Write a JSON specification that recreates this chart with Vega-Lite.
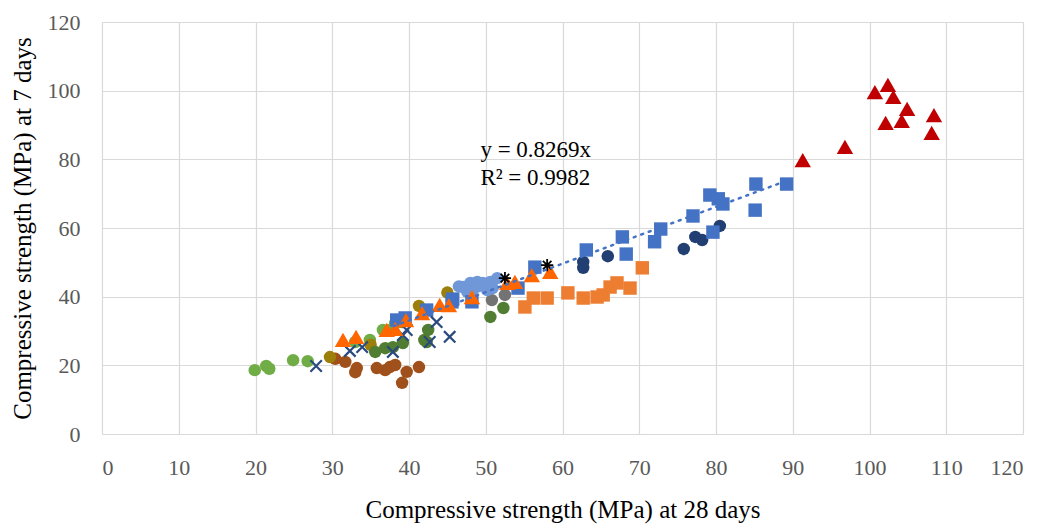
{
  "$schema": "https://vega.github.io/schema/vega-lite/v6.json",
  "autosize": "none",
  "width": 921,
  "height": 412,
  "padding": {"left": 102, "top": 22, "right": 25, "bottom": 95},
  "background": "white",
  "config": {
    "view": {"stroke": null},
    "axis": {
      "grid": true, "gridColor": "#d9d9d9", "gridWidth": 1.2, "domain": false, "ticks": false,
      "labelFont": "Liberation Serif", "labelFontSize": 22, "labelColor": "#595959",
      "titleFont": "Liberation Serif", "titleFontSize": 25, "titleColor": "#000000", "titleFontWeight": "normal"
    }
  },
  "datasets": {
    "pts": [
      {"s":"brown","x":30.4,"y":21.9},{"s":"brown","x":31.7,"y":21.0},{"s":"brown","x":33.2,"y":19.2},{"s":"brown","x":33.0,"y":18.0},{"s":"brown","x":35.8,"y":19.2},{"s":"brown","x":36.9,"y":18.6},{"s":"brown","x":37.5,"y":19.5},{"s":"brown","x":38.2,"y":20.1},{"s":"brown","x":39.7,"y":18.1},{"s":"brown","x":39.1,"y":14.9},{"s":"brown","x":41.3,"y":19.5},
      {"s":"lightgreen","x":19.9,"y":18.6},{"s":"lightgreen","x":21.4,"y":19.8},{"s":"lightgreen","x":21.8,"y":19.0},{"s":"lightgreen","x":24.9,"y":21.5},{"s":"lightgreen","x":26.8,"y":21.2},{"s":"lightgreen","x":33.0,"y":26.8},{"s":"lightgreen","x":34.9,"y":27.4},{"s":"lightgreen","x":36.6,"y":30.3},{"s":"lightgreen","x":38.2,"y":32.3},{"s":"lightgreen","x":37.5,"y":30.3},
      {"s":"olive","x":29.7,"y":22.4},{"s":"olive","x":35.0,"y":26.0},{"s":"olive","x":39.1,"y":32.6},{"s":"olive","x":41.3,"y":37.3},{"s":"olive","x":45.0,"y":41.2},
      {"s":"darkgreen","x":35.6,"y":23.9},{"s":"darkgreen","x":36.9,"y":25.0},{"s":"darkgreen","x":37.9,"y":25.3},{"s":"darkgreen","x":39.2,"y":26.5},{"s":"darkgreen","x":42.3,"y":26.8},{"s":"darkgreen","x":42.5,"y":30.3},{"s":"darkgreen","x":42.0,"y":27.4},{"s":"darkgreen","x":50.6,"y":34.1},{"s":"darkgreen","x":52.3,"y":36.7},
      {"s":"grey","x":50.8,"y":39.0},{"s":"grey","x":52.5,"y":40.5},
      {"s":"navycircle","x":62.7,"y":50.1},{"s":"navycircle","x":62.7,"y":48.4},{"s":"navycircle","x":65.9,"y":51.8},{"s":"navycircle","x":75.8,"y":53.9},{"s":"navycircle","x":77.3,"y":57.4},{"s":"navycircle","x":78.2,"y":56.5},{"s":"navycircle","x":80.5,"y":60.6},
      {"s":"orangesq","x":55.1,"y":37.0},{"s":"orangesq","x":56.2,"y":39.6},{"s":"orangesq","x":58.0,"y":39.6},{"s":"orangesq","x":60.7,"y":41.1},{"s":"orangesq","x":62.7,"y":39.6},{"s":"orangesq","x":64.5,"y":39.9},{"s":"orangesq","x":65.3,"y":40.5},{"s":"orangesq","x":66.2,"y":42.8},{"s":"orangesq","x":67.1,"y":44.0},{"s":"orangesq","x":68.8,"y":42.5},{"s":"orangesq","x":70.4,"y":48.4},
      {"s":"bluesq","x":38.4,"y":33.2},{"s":"bluesq","x":39.5,"y":33.8},{"s":"bluesq","x":42.3,"y":36.1},{"s":"bluesq","x":45.6,"y":38.5},{"s":"bluesq","x":45.7,"y":39.3},{"s":"bluesq","x":48.2,"y":38.5},{"s":"bluesq","x":54.2,"y":42.5},{"s":"bluesq","x":56.4,"y":48.6},{"s":"bluesq","x":63.1,"y":53.6},{"s":"bluesq","x":67.8,"y":57.4},{"s":"bluesq","x":68.3,"y":52.4},{"s":"bluesq","x":72.0,"y":56.0},{"s":"bluesq","x":72.8,"y":59.7},{"s":"bluesq","x":77.0,"y":63.5},{"s":"bluesq","x":79.2,"y":69.6},{"s":"bluesq","x":80.3,"y":68.5},{"s":"bluesq","x":80.9,"y":67.0},{"s":"bluesq","x":79.6,"y":58.8},{"s":"bluesq","x":85.2,"y":72.8},{"s":"bluesq","x":85.1,"y":65.2},{"s":"bluesq","x":89.2,"y":72.8},
      {"s":"lightblue","x":47.0,"y":42.8},{"s":"lightblue","x":48.0,"y":44.0},{"s":"lightblue","x":48.9,"y":44.3},{"s":"lightblue","x":49.6,"y":44.0},{"s":"lightblue","x":50.6,"y":44.3},{"s":"lightblue","x":51.5,"y":45.4},{"s":"lightblue","x":48.3,"y":41.9},{"s":"lightblue","x":50.2,"y":41.9},{"s":"lightblue","x":47.6,"y":41.4},{"s":"lightblue","x":50.9,"y":42.5},{"s":"lightblue","x":46.5,"y":43.0},{"s":"lightblue","x":49.0,"y":43.0},
      {"s":"navyx","x":27.9,"y":19.8},{"s":"navyx","x":32.3,"y":24.2},{"s":"navyx","x":33.9,"y":25.3},{"s":"navyx","x":37.9,"y":23.9},{"s":"navyx","x":39.2,"y":28.8},{"s":"navyx","x":39.7,"y":30.3},{"s":"navyx","x":42.7,"y":26.8},{"s":"navyx","x":43.6,"y":32.6},{"s":"navyx","x":45.3,"y":28.3},
      {"s":"orangetri","x":31.4,"y":27.4},{"s":"orangetri","x":33.1,"y":28.3},{"s":"orangetri","x":37.1,"y":30.3},{"s":"orangetri","x":38.2,"y":30.6},{"s":"orangetri","x":39.6,"y":33.2},{"s":"orangetri","x":41.7,"y":35.2},{"s":"orangetri","x":44.0,"y":37.6},{"s":"orangetri","x":45.2,"y":37.5},{"s":"orangetri","x":48.2,"y":39.9},{"s":"orangetri","x":52.8,"y":44.0},{"s":"orangetri","x":53.8,"y":44.3},{"s":"orangetri","x":56.0,"y":46.3},{"s":"orangetri","x":58.4,"y":47.2},
      {"s":"redtri","x":91.3,"y":79.8},{"s":"redtri","x":96.8,"y":83.6},{"s":"redtri","x":100.7,"y":99.6},{"s":"redtri","x":102.4,"y":101.7},{"s":"redtri","x":103.1,"y":98.2},{"s":"redtri","x":104.9,"y":94.7},{"s":"redtri","x":102.1,"y":90.6},{"s":"redtri","x":104.2,"y":91.2},{"s":"redtri","x":108.4,"y":92.9},{"s":"redtri","x":108.1,"y":87.7},
      {"s":"asterisk","x":52.5,"y":45.4},{"s":"asterisk","x":58.0,"y":49.2}
    ],
    "trend": [{"x":38.0,"y":31.42},{"x":89.2,"y":73.76}],
    "labels": [{"x":49.3,"y":82.7,"t":"y = 0.8269x"},{"x":49.3,"y":74.6,"t":"R² = 0.9982"}]
  },
  "encoding": {
    "x": {"field": "x", "type": "quantitative", "scale": {"domain": [0, 120], "nice": false}, "axis": {"values": [0,10,20,30,40,50,60,70,80,90,100,110,120], "title": "Compressive strength (MPa) at 28 days", "labelPadding": 23, "titlePadding": 19}},
    "y": {"field": "y", "type": "quantitative", "scale": {"domain": [0, 120], "nice": false}, "axis": {"values": [0,20,40,60,80,100,120], "title": "Compressive strength (MPa) at 7 days", "labelPadding": 22, "titlePadding": 12}}
  },
  "layer": [
    {
      "data": {"name": "pts"},
      "transform": [{"filter": {"field": "s", "oneOf": ["brown","lightgreen","olive","darkgreen","grey","navycircle","lightblue"]}}],
      "mark": {"type": "circle", "size": 155, "opacity": 1},
      "encoding": {"color": {"field": "s", "type": "nominal", "legend": null, "scale": {"domain": ["brown","lightgreen","olive","darkgreen","grey","navycircle","lightblue","orangesq","bluesq","orangetri","redtri"], "range": ["#A0501A","#70AD47","#9C7F0A","#507D32","#737373","#223F73","#7098D8","#ED7D31","#4472C4","#FF6600","#C00000"]}}}
    },
    {
      "data": {"name": "pts"},
      "transform": [{"filter": {"field": "s", "oneOf": ["orangesq","bluesq"]}}],
      "mark": {"type": "square", "size": 180, "opacity": 1},
      "encoding": {"color": {"field": "s", "type": "nominal", "legend": null, "scale": {"domain": ["brown","lightgreen","olive","darkgreen","grey","navycircle","lightblue","orangesq","bluesq","orangetri","redtri"], "range": ["#A0501A","#70AD47","#9C7F0A","#507D32","#737373","#223F73","#7098D8","#ED7D31","#4472C4","#FF6600","#C00000"]}}}
    },
    {
      "data": {"name": "pts"},
      "transform": [{"filter": {"field": "s", "oneOf": ["navyx"]}}],
      "mark": {"type": "point", "shape": "M-1,-1L1,1M-1,1L1,-1", "size": 130, "filled": false, "strokeWidth": 2.2, "color": "#2A4A7F", "opacity": 1}
    },
    {
      "data": {"name": "pts"},
      "transform": [{"filter": {"field": "s", "oneOf": ["orangetri","redtri"]}}],
      "mark": {"type": "point", "shape": "triangle-up", "size": 270, "filled": true, "opacity": 1},
      "encoding": {"color": {"field": "s", "type": "nominal", "legend": null, "scale": {"domain": ["brown","lightgreen","olive","darkgreen","grey","navycircle","lightblue","orangesq","bluesq","orangetri","redtri"], "range": ["#A0501A","#70AD47","#9C7F0A","#507D32","#737373","#223F73","#7098D8","#ED7D31","#4472C4","#FF6600","#C00000"]}}}
    },
    {
      "data": {"name": "pts"},
      "transform": [{"filter": {"field": "s", "oneOf": ["asterisk"]}}],
      "mark": {"type": "point", "shape": "M-1,0L1,0M0,-1L0,1M-0.7,-0.7L0.7,0.7M-0.7,0.7L0.7,-0.7", "size": 150, "filled": false, "strokeWidth": 1.8, "color": "#000000", "opacity": 1}
    },
    {
      "data": {"name": "trend"},
      "mark": {"type": "line", "color": "#4472C4", "strokeWidth": 2.5, "strokeDash": [2, 6], "strokeCap": "round"},
      "encoding": {}
    },
    {
      "data": {"name": "labels"},
      "mark": {"type": "text", "align": "left", "baseline": "middle", "font": "Liberation Serif", "fontSize": 23, "color": "#000000"},
      "encoding": {"text": {"field": "t", "type": "nominal"}}
    }
  ]
}
